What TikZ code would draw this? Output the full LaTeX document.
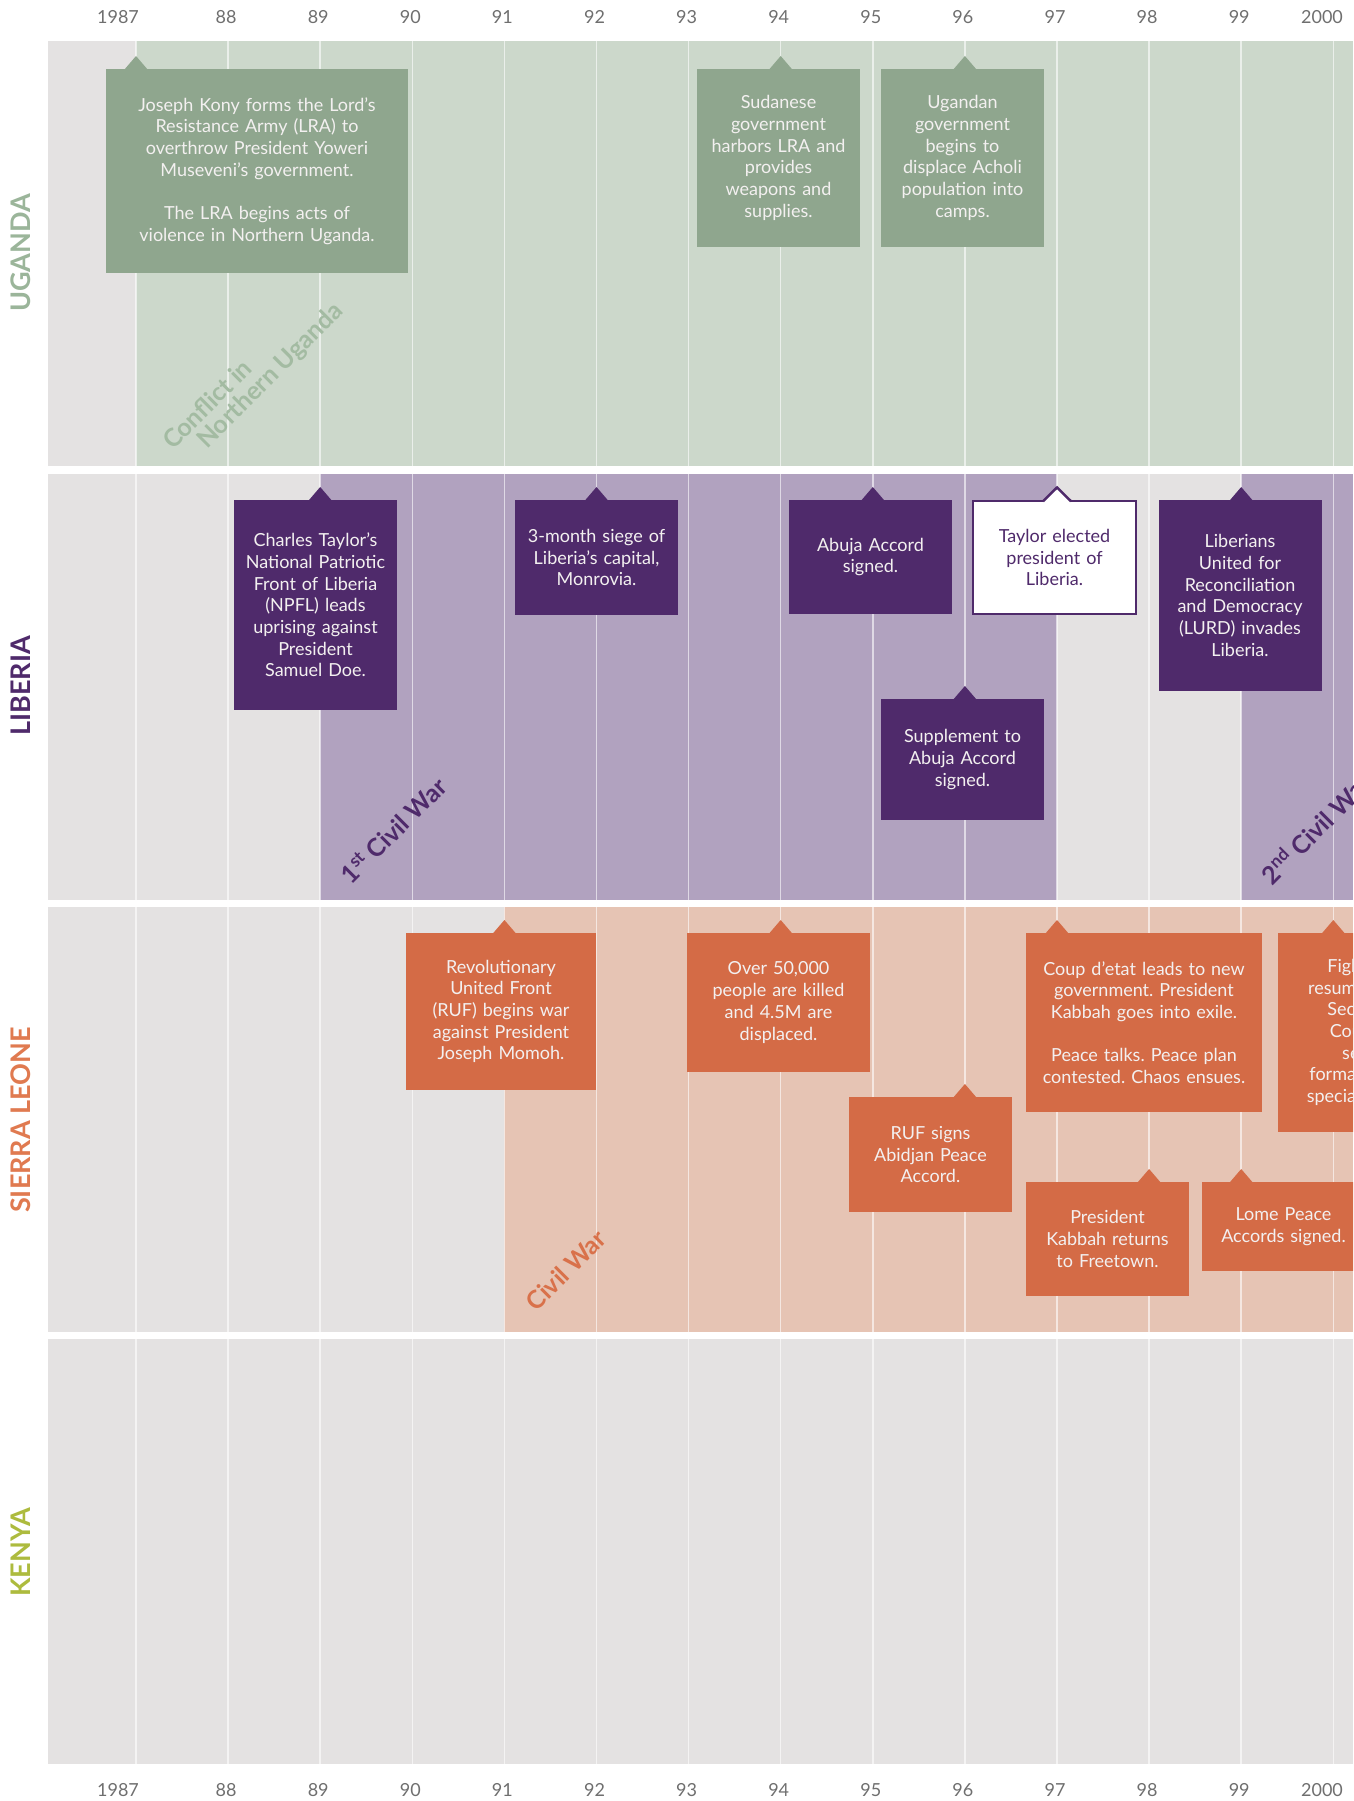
\documentclass[tikz,border=0pt]{standalone}
\usepackage{fontspec}
\setmainfont{Lato}
\frenchspacing
\definecolor{bggrey}{HTML}{E4E2E2}
\definecolor{ugband}{HTML}{CCD8CB}
\definecolor{lbband}{HTML}{B1A2BF}
\definecolor{slband}{HTML}{E6C4B4}
\definecolor{ugbox}{HTML}{8FA68E}
\definecolor{lbbox}{HTML}{4F2A6B}
\definecolor{slbox}{HTML}{D46B46}
\definecolor{uglabel}{HTML}{9BB59A}
\definecolor{sllabel}{HTML}{E07A50}
\definecolor{kelabel}{HTML}{ADBB3E}
\definecolor{ugdiag}{HTML}{A3BBA2}
\definecolor{sldiag}{HTML}{D9714A}
\definecolor{yeargrey}{HTML}{6F6F6F}
\definecolor{boxtext}{HTML}{F3F0F0}

\newcommand\evfont{\fontsize{18}{21.7}\selectfont}
\newcommand\yrfont{\fontsize{18}{21}\selectfont}
\newcommand\ctfont{\fontsize{27}{30}\selectfont\bfseries}
\newcommand\dgfont{\fontsize{25}{27}\selectfont\bfseries}

% #1 name, #2 style, #3 cx, #4 cy, #5 width, #6 height, #7 pointer x, #8 text
\newcommand\evbox[8]{%
  \pgfmathsetmacro\evtw{#5-10}%
  \pgfmathsetmacro\evtop{#4-#6/2}%
  \node[#2, minimum width=#5pt, minimum height=#6pt, text width=\evtw pt] (#1) at (#3,#4) {#8};
  \fill[#2tip] (#7-12,\evtop+1) -- (#7,\evtop-13) -- (#7+12,\evtop+1) -- cycle;
}

\begin{document}
\begin{tikzpicture}[x=1pt,y=-1pt,
  evbase/.style={rectangle, inner sep=0pt, align=center, font=\evfont, text=boxtext},
  greenbox/.style={evbase, fill=ugbox},
  greenboxtip/.style={fill=ugbox},
  purplebox/.style={evbase, fill=lbbox},
  purpleboxtip/.style={fill=lbbox},
  orangebox/.style={evbase, fill=slbox},
  orangeboxtip/.style={fill=slbox},
  whitebox/.style={evbase, fill=white, draw=lbbox, line width=2.5pt, text=lbbox},
  yearline/.style={draw=white, opacity=0.6, line width=1.5pt},
  yearlabel/.style={font=\yrfont, text=yeargrey},
  countrylabel/.style={font=\ctfont, rotate=90},
  diaglabel/.style={font=\dgfont, rotate=45}]

\useasboundingbox (0,0) rectangle (1353,1801);
\fill[white] (0,0) rectangle (1353,1801);
\clip (0,0) rectangle (1353,1801);

% ---- bands ----
\fill[bggrey] (48,41) rectangle (1353,466);
\fill[ugband] (136,41) rectangle (1353,466);
\fill[bggrey] (48,474) rectangle (1353,900);
\fill[lbband] (320.2,474) rectangle (1057,900);
\fill[lbband] (1241.2,474) rectangle (1353,900);
\fill[bggrey] (48,907) rectangle (1353,1332);
\fill[slband] (504.4,907) rectangle (1353,1332);
\fill[bggrey] (48,1339) rectangle (1353,1764);

% ---- year lines ----
\foreach \ya/\yb in {41/466, 474/900, 907/1332, 1339/1764}
  \foreach \k in {0,...,13}
    \draw[yearline] (136+92.1*\k,\ya) -- (136+92.1*\k,\yb);

% ---- year labels ----
\node[yearlabel] (yt87) at (118,17) {1987};
\node[yearlabel] (yb87) at (118,1790) {1987};
\foreach \yy [count=\k] in {88,89,90,91,92,93,94,95,96,97,98,99} {
  \node[yearlabel] (yt\yy) at (134+92.1*\k,17) {\yy};
  \node[yearlabel] (yb\yy) at (134+92.1*\k,1790) {\yy};
}
\node[yearlabel] (yt00) at (1322,17) {2000};
\node[yearlabel] (yb00) at (1322,1790) {2000};

% ---- country labels ----
\node[countrylabel, text=uglabel] (ug) at (21,253) {UGANDA};
\node[countrylabel, text=lbbox] (lb) at (21,686) {LIBERIA};
\node[countrylabel, text=sllabel] (sl) at (21,1120) {SIERRA LEONE};
\node[countrylabel, text=kelabel] (ke) at (21,1552) {KENYA};

% ---- diagonal period labels ----
\node[diaglabel, text=ugdiag] (ugc1) at (207,404) {Conflict in};
\node[diaglabel, text=ugdiag] (ugc2) at (271,376) {Northern Uganda};
\node[diaglabel, text=lbbox] (lbw1) at (393,830) {1\textsuperscript{st} Civil War};
\node[diaglabel, text=lbbox] (lbw2) at (1315,828) {2\textsuperscript{nd} Civil War};
\node[diaglabel, text=sldiag] (slw) at (566,1270) {Civil War};

% ---- Uganda events ----
\evbox{kony}{greenbox}{257}{171}{302}{204}{136}{Joseph Kony forms the Lord's\\Resistance Army (LRA) to\\overthrow President Yoweri\\Museveni's government.\\[21.7pt]The LRA begins acts of\\violence in Northern Uganda.}
\evbox{sudan}{greenbox}{778.5}{158}{163}{178}{780.7}{Sudanese\\government\\harbors LRA and\\provides\\weapons and\\supplies.}
\evbox{acholi}{greenbox}{962.5}{158}{163}{178}{964.9}{Ugandan\\government\\begins to\\displace Acholi\\population into\\camps.}

% ---- Liberia events ----
\evbox{npfl}{purplebox}{315.5}{605}{163}{210}{320.2}{Charles Taylor's\\National Patriotic\\Front of Liberia\\(NPFL) leads\\uprising against\\President\\Samuel Doe.}
\evbox{siege}{purplebox}{596.5}{557.5}{163}{115}{596.5}{3-month siege of\\Liberia's capital,\\Monrovia.}
\evbox{abuja}{purplebox}{870.5}{557}{163}{114}{872.8}{Abuja Accord\\signed.}
\evbox{lurd}{purplebox}{1240}{595.5}{163}{191}{1241.2}{Liberians\\United for\\Reconciliation\\and Democracy\\(LURD) invades\\Liberia.}
\evbox{supp}{purplebox}{962.5}{759.5}{163}{121}{964.9}{Supplement to\\Abuja Accord\\signed.}
% white box
\node[whitebox, minimum width=163pt, minimum height=113pt, text width=150pt] (elect) at (1054.5,557.5) {Taylor elected\\president of\\Liberia.};
\fill[white] (1043,502.5) -- (1057,487.5) -- (1071,502.5) -- cycle;
\draw[lbbox, line width=2.5pt, line join=miter] (1043,501.25) -- (1057,487.5) -- (1071,501.25);

% ---- Sierra Leone events ----
\evbox{rufwar}{orangebox}{501}{1011.5}{190}{157}{504.4}{Revolutionary\\United Front\\(RUF) begins war\\against President\\Joseph Momoh.}
\evbox{killed}{orangebox}{778.5}{1002.5}{183}{139}{780.7}{Over 50,000\\people are killed\\and 4.5M are\\displaced.}
\evbox{abidjan}{orangebox}{930.5}{1154.5}{163}{115}{964.9}{RUF signs\\Abidjan Peace\\Accord.}
\evbox{coup}{orangebox}{1144}{1022.5}{236}{179}{1057}{Coup d'etat leads to new\\government. President\\Kabbah goes into exile.\\[21.7pt]Peace talks. Peace plan\\contested. Chaos ensues.}
\evbox{fight}{orangebox}{1359.5}{1032.5}{163}{199}{1333.3}{Fighting\\resumes. UN\\Security\\Council\\sees\\formation of\\special court.}
\evbox{kabbah}{orangebox}{1107.5}{1239}{163}{114}{1149.1}{President\\Kabbah returns\\to Freetown.}
\evbox{lome}{orangebox}{1283.5}{1226.5}{163}{89}{1241.2}{Lome Peace\\Accords signed.}

\end{tikzpicture}
\end{document}
